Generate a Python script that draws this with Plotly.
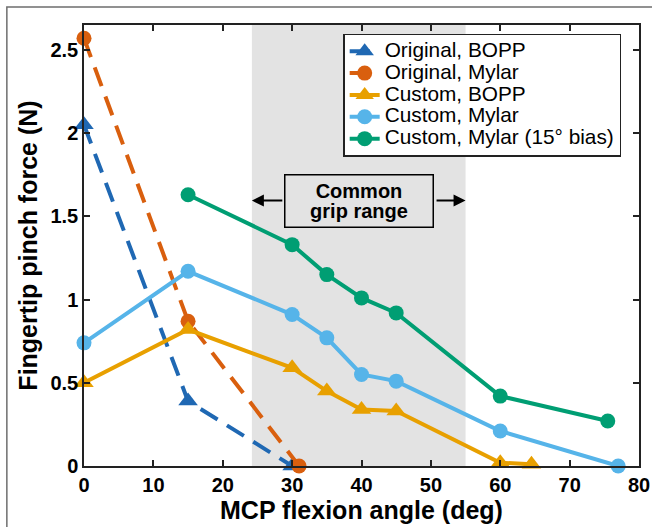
import plotly.graph_objects as go

# MCP flexion angle (deg) and fingertip pinch force (N) for each configuration
orig_bopp_x = [0, 15, 30]
orig_bopp_y = [2.05, 0.39, 0.0]

orig_mylar_x = [0, 15, 31]
orig_mylar_y = [2.57, 0.87, 0.0]

cust_bopp_x = [0, 15, 30, 35, 40, 45, 60, 64.5]
cust_bopp_y = [0.50, 0.82, 0.59, 0.45, 0.34, 0.33, 0.02, 0.01]

cust_mylar_x = [0, 15, 30, 35, 40, 45, 60, 77]
cust_mylar_y = [0.74, 1.17, 0.91, 0.77, 0.55, 0.51, 0.21, 0.0]

bias_mylar_x = [15, 30, 35, 40, 45, 60, 75.5]
bias_mylar_y = [1.63, 1.33, 1.15, 1.01, 0.92, 0.42, 0.27]

grip_range = [24.2, 55]
x_ticks = [0, 10, 20, 30, 40, 50, 60, 70, 80]
y_ticks = [0, 0.5, 1, 1.5, 2, 2.5]
y_tick_text = ["0", "0.5", "1", "1.5", "2", "2.5"]

FONT = "Liberation Sans, Arial, sans-serif"


def big(text, size):
    # larger glyphs inside a tighter line pitch
    return f'<span style="font-size:{size}px">{text}</span>'


fig = go.Figure()

series = [
    ("Original, BOPP", orig_bopp_x, orig_bopp_y, "#1F68B3", "dash", "triangle-up"),
    ("Original, Mylar", orig_mylar_x, orig_mylar_y, "#D95F0E", "dash", "circle"),
    ("Custom, BOPP", cust_bopp_x, cust_bopp_y, "#E8A000", "solid", "triangle-up"),
    ("Custom, Mylar", cust_mylar_x, cust_mylar_y, "#56B4E9", "solid", "circle"),
    ("Custom, Mylar (15° bias)", bias_mylar_x, bias_mylar_y, "#009E73", "solid", "circle"),
]

for name, xs, ys, color, dash, symbol in series:
    fig.add_trace(go.Scatter(
        x=xs, y=ys, name=big(name, 20.8), mode="lines+markers",
        line=dict(color=color, width=4, dash="20px,11px" if dash == "dash" else "solid"),
        marker=dict(color=color, size=15 if symbol == "circle" else 17, symbol=symbol),
        cliponaxis=False,
    ))

shapes = [
    # shaded common grip range
    dict(type="rect", xref="x", yref="paper", x0=grip_range[0], x1=grip_range[1],
         y0=0, y1=1, fillcolor="#E3E3E3", line=dict(width=0), layer="below"),
    # outer figure frame
    dict(type="rect", xref="paper", yref="paper", x0=-0.139, x1=1.2, y0=-0.3, y1=1.041,
         line=dict(color="#6E6E6E", width=1.5), fillcolor="rgba(0,0,0,0)"),
]

annotations = [
    dict(x=39.7, y=1.595, xref="x", yref="y",
         text="<b>" + big("Common", 20) + "<br>" + big("grip range", 20) + "</b>",
         showarrow=False, width=143, height=47,
         font=dict(family=FONT, size=16, color="black"),
         bordercolor="black", borderwidth=1.5, bgcolor="#E3E3E3", borderpad=2),
    dict(x=grip_range[0], y=1.595, ax=28.8, ay=1.595, xref="x", yref="y", axref="x", ayref="y",
         text="", showarrow=True, arrowhead=2, arrowsize=1.2, arrowwidth=2, arrowcolor="black"),
    dict(x=grip_range[1], y=1.595, ax=50.6, ay=1.595, xref="x", yref="y", axref="x", ayref="y",
         text="", showarrow=True, arrowhead=2, arrowsize=1.2, arrowwidth=2, arrowcolor="black"),
]

axis_common = dict(
    showline=True, linecolor="#222222", linewidth=1.5, mirror="ticks",
    ticks="inside", ticklen=6, tickwidth=1.5, tickcolor="#222222",
    showgrid=False, zeroline=False, automargin=False,
    tickfont=dict(family=FONT, size=20, color="black", weight="bold"),
)

fig.update_layout(
    width=652, height=527,
    margin=dict(l=84, r=13, t=25, b=61),
    paper_bgcolor="white", plot_bgcolor="white",
    font=dict(family=FONT, color="black"),
    xaxis=dict(range=[0, 80], tickvals=x_ticks,
               title=dict(text="<b>MCP flexion angle (deg)</b>", font=dict(family=FONT, size=25), standoff=4),
               **axis_common),
    yaxis=dict(range=[0, 2.65], tickvals=y_ticks, ticktext=y_tick_text,
               title=dict(text="<b>Fingertip pinch force (N)</b>", font=dict(family=FONT, size=25), standoff=6),
               **axis_common),
    legend=dict(x=0.467, y=0.98, xanchor="left", yanchor="top",
                bgcolor="white", bordercolor="#222222", borderwidth=1.5,
                font=dict(family=FONT, size=14.5, color="black"),
                itemwidth=30, tracegroupgap=0),
    shapes=shapes,
    annotations=annotations,
    showlegend=True,
)

fig.write_html("out.html")
